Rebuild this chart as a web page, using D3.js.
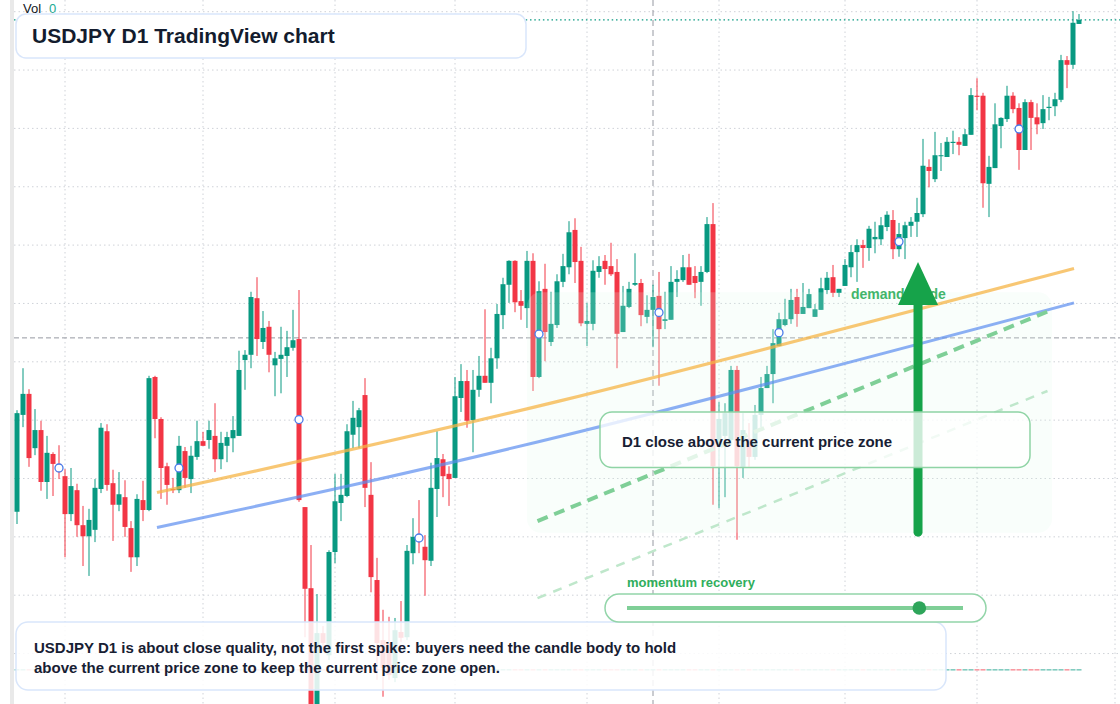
<!DOCTYPE html>
<html lang="en">
<head>
<meta charset="utf-8">
<title>USDJPY D1 TradingView chart</title>
<script src="https://d3js.org/d3.v7.min.js"></script>
<style>
  html, body { margin: 0; padding: 0; background: #fff; }
  body { font-family: "Liberation Sans", Arial, Helvetica, sans-serif; }
  svg { display: block; }
</style>
</head>
<body>
<div id="chart"></div>
<script>
// daily candles (price in JPY)
var opens = [149.43,151.09,151.45,150.52,150.83,149.94,150.42,150.25,150.04,149.39,149.80,149.20,149.01,149.12,149.82,150.81,149.92,149.55,149.68,149.15,
  148.65,149.63,149.46,151.74,151.02,150.21,149.82,149.80,150.47,149.99,150.37,150.64,150.66,150.73,150.33,150.56,150.69,150.73,152.03,152.12,
  153.09,152.34,152.60,151.94,152.05,152.10,152.24,152.39,149.51,148.12,145.96,147.35,146.97,148.74,149.58,149.70,150.75,150.88,151.43,149.72,
  148.26,147.23,147.18,146.58,147.37,147.28,148.72,149.03,148.83,148.59,149.82,150.33,150.08,150.01,151.38,151.67,151.00,151.52,151.76,151.64,
  152.06,152.80,153.32,153.73,153.04,152.92,153.73,151.74,153.25,152.34,152.63,153.37,153.62,154.26,153.73,152.65,152.65,153.54,153.73,153.64,
  153.54,152.51,152.94,153.32,153.35,152.77,152.89,153.13,152.70,152.72,153.37,153.40,153.62,153.47,153.37,153.54,154.36,150.54,150.73,150.66,
  151.86,150.20,150.68,150.37,151.09,151.55,151.79,152.27,152.63,152.73,153.11,152.82,152.92,152.77,152.89,153.23,153.45,153.18,153.30,153.62,
  153.88,154.00,153.95,154.10,154.10,154.31,154.43,153.93,154.12,154.33,154.40,154.53,155.34,155.13,155.53,155.51,155.75,155.77,155.70,155.89,
  156.56,156.56,155.05,155.32,156.04,156.16,156.56,156.35,155.63,156.45,156.19,156.09,156.35,156.38,156.49,157.17,157.09,157.79];
var highs = [151.17,151.89,151.53,151.19,150.99,150.73,150.45,150.57,150.16,150.18,149.91,149.53,149.48,149.99,150.95,150.93,150.15,150.11,149.97,149.27,
  149.73,149.96,151.76,151.76,151.05,150.27,150.01,150.73,150.54,150.56,150.99,150.80,150.99,151.29,150.80,150.80,151.07,152.19,152.20,153.20,
  153.45,152.87,152.70,152.17,152.60,152.53,152.89,153.23,149.51,148.86,148.02,147.47,148.77,150.08,150.08,150.93,151.33,151.21,151.72,150.28,
  148.64,147.75,147.63,147.61,147.90,148.86,149.32,149.63,149.03,150.27,150.81,150.42,150.21,151.74,151.96,151.86,151.86,152.10,152.90,152.24,
  152.99,153.44,153.74,153.74,153.23,153.90,153.86,153.38,153.68,153.20,153.50,153.85,154.41,154.46,153.97,153.01,153.74,153.81,153.83,154.04,
  153.76,153.30,153.37,153.86,153.42,153.14,153.32,153.54,153.20,153.64,153.57,153.83,153.85,153.64,153.64,154.48,154.72,151.31,151.29,151.93,
  151.93,151.12,150.95,151.26,151.74,151.93,152.56,152.84,153.08,153.25,153.25,153.35,153.25,152.99,153.44,153.54,153.66,153.25,153.76,154.00,
  154.10,154.09,154.33,154.40,154.48,154.58,154.60,154.38,154.40,154.48,154.81,155.82,155.47,155.94,155.75,155.85,155.96,155.85,155.99,156.69,
  156.86,156.61,155.53,156.43,156.19,156.73,156.62,156.43,156.50,156.49,156.43,156.57,156.54,156.61,157.26,157.24,158.01,157.96];
var lows = [149.22,150.88,150.20,150.40,149.79,149.65,149.70,149.99,148.65,149.27,149.00,148.50,148.33,148.91,149.75,149.79,148.93,149.44,149.00,148.40,
  148.50,149.27,149.44,150.69,149.65,149.55,149.75,149.75,149.84,149.75,150.32,150.56,150.51,150.11,150.16,150.28,150.45,150.73,151.52,151.89,
  152.10,152.22,151.82,151.41,151.46,151.74,152.19,149.60,147.28,145.83,145.90,147.06,146.89,148.55,149.27,149.68,150.52,150.52,149.51,148.05,
  146.55,146.26,146.55,146.51,147.20,147.23,148.53,148.72,147.99,148.50,149.34,149.68,149.53,150.01,151.14,150.87,150.45,151.40,151.64,151.29,
  151.88,152.56,153.01,152.85,152.72,152.58,151.50,151.72,152.01,152.27,152.58,153.28,153.50,153.35,152.61,152.27,152.54,153.44,153.32,153.47,
  151.89,152.51,152.92,153.30,152.61,152.66,152.25,151.59,152.56,152.72,153.11,153.37,153.32,153.09,152.96,153.52,149.55,149.49,149.68,150.57,
  148.95,150.01,150.20,150.32,150.88,151.55,151.29,152.27,152.61,152.65,152.60,152.82,152.92,152.77,152.89,153.16,153.11,153.11,153.30,153.45,
  153.37,153.61,153.73,153.86,154.00,154.24,153.76,153.80,153.76,154.14,154.14,154.48,154.99,155.08,155.27,155.51,155.56,155.54,155.70,155.89,
  156.31,154.64,154.48,155.32,155.66,156.11,156.26,155.29,155.63,155.63,155.90,155.99,156.14,156.21,156.45,156.69,157.02,157.79];
var closes = [151.12,151.45,150.35,150.83,149.94,150.44,150.25,150.11,149.39,149.87,149.20,149.01,149.29,149.84,150.87,149.89,149.55,149.73,149.17,148.65,
  149.65,149.46,151.72,151.02,150.18,149.89,149.80,150.56,150.01,150.39,150.64,150.56,150.83,150.33,150.61,150.71,150.83,151.86,152.12,153.11,
  152.39,152.58,152.12,152.06,152.12,152.25,152.37,149.63,148.11,146.00,147.35,147.18,148.74,149.61,149.72,150.81,151.04,151.17,149.84,148.31,
  147.18,146.75,146.63,147.40,147.27,148.76,149.00,148.93,148.60,149.84,150.35,150.04,149.99,151.41,151.67,150.99,151.52,151.76,151.64,152.06,
  152.82,153.33,153.73,153.02,152.96,153.73,151.74,153.21,152.51,152.65,153.38,153.64,154.22,153.71,152.66,152.70,153.56,153.64,153.59,153.50,
  152.48,152.96,153.25,153.35,152.80,152.89,153.11,152.56,152.73,153.37,153.42,153.62,153.32,153.35,153.54,154.36,150.21,151.02,151.12,151.86,
  150.21,150.83,150.37,151.09,151.55,151.79,152.32,152.73,152.73,153.06,152.82,152.94,153.16,152.90,153.26,153.44,153.18,153.25,153.66,153.88,
  154.00,153.95,154.28,154.14,154.34,154.52,153.93,154.19,154.34,154.40,154.55,155.36,155.27,155.54,155.54,155.77,155.77,155.72,155.90,156.57,
  156.54,155.06,155.34,156.07,156.18,156.56,156.33,155.63,156.45,156.18,156.07,156.33,156.37,156.50,157.17,157.09,157.81,157.86];

var markerIdx = [7, 27, 47, 67, 87, 107, 127, 147, 167];   // blue ring markers (body mid)
var priceGrid = [147, 148, 149, 150, 151, 152, 153, 154, 155, 156, 157, 158];
var timeGrid = [8, 31, 53, 73, 95, 117, 138, 160, 183];     // bar index of the date grid lines
var crossIdx = 106, crossPrice = 152.41;

// drawn overlays, as [bar index, price]
var orangeTrend = [[23.33, 149.76], [90.5, 151.33], [176.17, 153.60]];
var blueTrend = [[23.33, 149.16], [90.5, 150.72], [176.17, 153.01]];
var greenDash = [[86.75, 149.27], [171.75, 152.86]];
var paleDash = [[86.75, 147.95], [171.75, 151.50]];
var zoneIdx = [85, 172.5], zonePrice = [149.07, 153.19];
var arrowIdx = 150.17, arrowFrom = 149.08, arrowTo = 153.71;
var momentum = 0.87;

var W = 1120, H = 704;
var data = opens.map(function(o, i) {
  return {i: i, o: o, h: highs[i], l: lows[i], c: closes[i]};
});

var x = d3.scaleLinear().domain([0, 177]).range([17, 1079]);
var y = d3.scaleLinear().domain([146, 158]).range([711.9, 11.7]);

var UP = "#089981", DOWN = "#f23645";

var svg = d3.select("#chart").append("svg")
  .attr("width", W).attr("height", H);

svg.append("rect").attr("width", W).attr("height", H).attr("fill", "#fff");
svg.append("rect").attr("x", 10).attr("y", 0).attr("width", 4).attr("height", H).attr("fill", "#e9e9e9");

// grid
svg.append("g").selectAll("line").data(priceGrid).enter().append("line")
  .attr("x1", 14).attr("x2", W)
  .attr("y1", function(d) { return y(d); }).attr("y2", function(d) { return y(d); })
  .attr("stroke", "#cfd2d8").attr("stroke-width", 1).attr("stroke-dasharray", "1.5 3");
svg.append("g").selectAll("line").data(timeGrid).enter().append("line")
  .attr("x1", function(d) { return x(d); }).attr("x2", function(d) { return x(d); })
  .attr("y1", 0).attr("y2", H)
  .attr("stroke", "#cfd2d8").attr("stroke-width", 1).attr("stroke-dasharray", "1.5 3");

// volume strip (empty volume, just the baseline ticks)
svg.append("g").selectAll("rect").data(data).enter().append("rect")
  .attr("x", function(d) { return x(d.i) - 2.5; })
  .attr("y", 669).attr("width", 5).attr("height", 1.6)
  .attr("fill", function(d) { return d.c >= d.o ? UP : DOWN; })
  .attr("opacity", 0.5);

// last price line
svg.append("line").attr("x1", 14).attr("x2", W)
  .attr("y1", y(closes[closes.length - 1])).attr("y2", y(closes[closes.length - 1]))
  .attr("stroke", UP).attr("stroke-width", 1.2).attr("stroke-dasharray", "1.5 2.8");

// crosshair
svg.append("line").attr("x1", 14).attr("x2", W)
  .attr("y1", y(crossPrice)).attr("y2", y(crossPrice))
  .attr("stroke", "#9598a1").attr("stroke-dasharray", "5 3");
svg.append("line").attr("x1", x(crossIdx)).attr("x2", x(crossIdx))
  .attr("y1", 0).attr("y2", H)
  .attr("stroke", "#9598a1").attr("stroke-dasharray", "6 4");

// candles
var candles = svg.append("g").selectAll("g").data(data).enter().append("g");
candles.append("line")
  .attr("x1", function(d) { return x(d.i); }).attr("x2", function(d) { return x(d.i); })
  .attr("y1", function(d) { return y(d.h); }).attr("y2", function(d) { return y(d.l); })
  .attr("stroke", function(d) { return d.c >= d.o ? UP : DOWN; })
  .attr("stroke-width", 1);
candles.append("rect")
  .attr("x", function(d) { return x(d.i) - 2.5; })
  .attr("width", 5)
  .attr("y", function(d) { return y(Math.max(d.o, d.c)); })
  .attr("height", function(d) { return Math.max(1, Math.abs(y(d.o) - y(d.c))); })
  .attr("fill", function(d) { return d.c >= d.o ? UP : DOWN; });

// zone tint over the candles
svg.append("rect")
  .attr("x", x(zoneIdx[0])).attr("y", y(zonePrice[1]))
  .attr("width", x(zoneIdx[1]) - x(zoneIdx[0]))
  .attr("height", y(zonePrice[0]) - y(zonePrice[1]))
  .attr("rx", 14)
  .attr("fill", "#e2f8e9").attr("opacity", 0.2);

// markers
svg.append("g").selectAll("circle").data(markerIdx).enter().append("circle")
  .attr("cx", function(i) { return x(i); })
  .attr("cy", function(i) { return y((opens[i] + closes[i]) / 2); })
  .attr("r", 4)
  .attr("fill", "#fff").attr("stroke", "#4a7bea").attr("stroke-width", 1.3);

// trend curves
var curve = d3.line()
  .x(function(d) { return x(d[0]); })
  .y(function(d) { return y(d[1]); })
  .curve(d3.curveNatural);
svg.append("path").attr("d", curve(orangeTrend))
  .attr("fill", "none").attr("stroke", "#f5b445").attr("stroke-width", 3.2).attr("opacity", 0.75);
svg.append("path").attr("d", curve(blueTrend))
  .attr("fill", "none").attr("stroke", "#5b8def").attr("stroke-width", 3).attr("opacity", 0.7);
svg.append("path").attr("d", curve(greenDash))
  .attr("fill", "none").attr("stroke", "#7fcf97").attr("stroke-width", 4)
  .attr("stroke-dasharray", "11 7");
svg.append("path").attr("d", curve(paleDash))
  .attr("fill", "none").attr("stroke", "#bfe7cb").attr("stroke-width", 2.5)
  .attr("stroke-dasharray", "9 8");

// demand label + arrow
svg.append("text").attr("x", 851).attr("y", 298.5)
  .attr("font-size", 14).attr("font-weight", "bold").attr("fill", "#2fae5c").attr("opacity", 0.9)
  .text("demand guide");
var ax = x(arrowIdx), headBase = y(arrowTo) + 43;
svg.append("line").attr("x1", ax).attr("x2", ax)
  .attr("y1", y(arrowFrom)).attr("y2", headBase)
  .attr("stroke", "#16a34a").attr("stroke-width", 9).attr("stroke-linecap", "round");
svg.append("path")
  .attr("d", "M" + ax + "," + y(arrowTo) + "L" + (ax + 20) + "," + headBase + "L" + (ax - 20) + "," + headBase + "Z")
  .attr("fill", "#16a34a");

// callout boxes
svg.append("rect").attr("x", 600).attr("y", 412).attr("width", 430).attr("height", 55.5).attr("rx", 12)
  .attr("fill", "#fff").attr("fill-opacity", 0.78).attr("stroke", "#8fd4a5").attr("stroke-width", 1.5);
svg.append("text").attr("x", 622).attr("y", 446.7)
  .attr("font-size", 15).attr("font-weight", "bold").attr("fill", "#172033")
  .text("D1 close above the current price zone");

svg.append("rect").attr("x", 16).attr("y", 622).attr("width", 930).attr("height", 68).attr("rx", 12)
  .attr("fill", "#fff").attr("fill-opacity", 0.86).attr("stroke", "#d9e6fb").attr("stroke-width", 1.5);
svg.append("text").attr("x", 34).attr("y", 652.7)
  .attr("font-size", 15).attr("font-weight", "bold").attr("fill", "#172033")
  .text("USDJPY D1 is about close quality, not the first spike: buyers need the candle body to hold");
svg.append("text").attr("x", 34).attr("y", 673.3)
  .attr("font-size", 15).attr("font-weight", "bold").attr("fill", "#172033")
  .text("above the current price zone to keep the current price zone open.");

// momentum pill
svg.append("text").attr("x", 627).attr("y", 586.7)
  .attr("font-size", 13).attr("font-weight", "bold").attr("fill", "#2fae5c")
  .text("momentum recovery");
svg.append("rect").attr("x", 605).attr("y", 594).attr("width", 381).attr("height", 28).attr("rx", 14)
  .attr("fill", "#fff").attr("stroke", "#93d5a9").attr("stroke-width", 1.5);
var mScale = d3.scaleLinear().domain([0, 1]).range([627, 963]);
svg.append("line").attr("x1", mScale(0)).attr("x2", mScale(1)).attr("y1", 608).attr("y2", 608)
  .attr("stroke", "#7fcf97").attr("stroke-width", 4);
svg.append("circle").attr("cx", mScale(momentum)).attr("cy", 608).attr("r", 6.8).attr("fill", "#2ea55a");

// title
svg.append("rect").attr("x", 16).attr("y", 14).attr("width", 510).attr("height", 44).attr("rx", 10)
  .attr("fill", "#fff").attr("stroke", "#d9e6fb").attr("stroke-width", 1.5);
svg.append("text").attr("x", 32).attr("y", 43.3)
  .attr("font-size", 21).attr("font-weight", "bold").attr("fill", "#131c2e")
  .text("USDJPY D1 TradingView chart");

var vol = svg.append("text").attr("x", 23).attr("y", 13).attr("font-size", 13);
vol.append("tspan").attr("fill", "#131722").text("Vol");
vol.append("tspan").attr("dx", 8).attr("fill", "#22ab94").text("0");
</script>
</body>
</html>
